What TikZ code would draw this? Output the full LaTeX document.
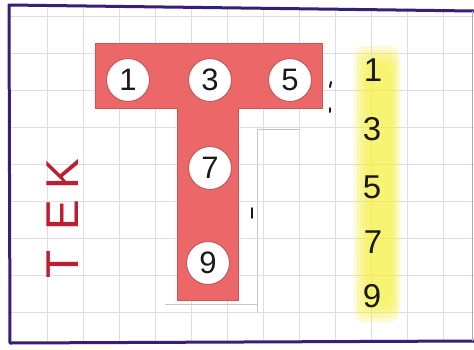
\documentclass[tikz,border=0pt]{standalone}
\usepackage{fontspec}
\setmainfont{Liberation Sans}
\definecolor{tred}{RGB}{236,104,104}
\definecolor{tedge}{RGB}{214,80,86}
\definecolor{tekred}{RGB}{190,30,50}
\definecolor{frame}{RGB}{55,30,120}
\definecolor{gridc}{RGB}{222,222,228}
\definecolor{hl}{RGB}{246,240,60}
\definecolor{ink}{RGB}{25,25,25}
\tikzset{
  gridline/.style={draw=gridc, line width=0.8pt},
  circ/.style={circle, fill=white, draw=tedge!70!gray, line width=1pt, minimum size=43pt, inner sep=0pt, text=ink, font=\fontsize{31}{31}\selectfont},
  num/.style={inner sep=0pt, text=ink, font=\fontsize{33}{33}\selectfont},
  tek/.style={inner sep=0pt, text=tekred, rotate=90, font=\fontsize{46}{46}\selectfont},
  pencil/.style={draw=gray!45, line width=0.7pt},
  dotmark/.style={draw=ink, line width=2pt, line cap=round},
  hlband/.style={fill=hl, opacity=0.22, rounded corners=10pt}
}
\begin{document}
\begin{tikzpicture}[x=1pt,y=-1pt]
\useasboundingbox (0,0) rectangle (474,349);
\fill[white] (0,0) rectangle (474,349);
% grid
\foreach \i in {0,...,11} \draw[gridline] ({47+36*\i},8) -- ({47+36*\i},343);
\foreach \j in {0,...,8} \draw[gridline] (8,{16+37*\j}) -- (474,{16+37*\j});
% highlight (soft edges)
\fill[hlband] (354,46) rectangle (400,322);
\fill[hlband] (357,50) rectangle (398,318);
\fill[hlband] (360,54) rectangle (396,314);
\fill[hlband] (363,58) rectangle (394,310);
\fill[hlband] (366,62) rectangle (392,306);
% pencil guide lines
\draw[pencil] (300,129) -- (257,129) -- (257,312);
\draw[pencil] (165,304) -- (257,304);
\draw[dotmark, line width=1.6pt] (252,208) -- (252,218);
% T shape
\fill[tred, draw=tedge, line width=0.8pt] (95,43) -- (322,43) -- (322,108) -- (238,108) -- (238,300) -- (177,300) -- (177,108) -- (95,108) -- cycle;
% circles
\node[circ] (c1) at (128,80) {1};
\node[circ] (c3) at (210,80) {3};
\node[circ] (c5) at (290,80) {5};
\node[circ] (c7) at (210,168) {7};
\node[circ] (c9) at (208,263) {9};
% separator marks
\draw[dotmark] (331,82) -- (330,87);
\draw[dotmark] (330,108) -- (330,112);
% right column
\node[num] (r1) at (373,70) {1};
\node[num] (r3) at (372,129) {3};
\node[num] (r5) at (372,187) {5};
\node[num] (r7) at (373,242) {7};
\node[num] (r9) at (372,296) {9};
% TEK vertical
\node[tek] (tT) at (63,264) {T};
\node[tek] (tE) at (63,215) {E};
\node[tek] (tK) at (63,174) {K};
% frame
\draw[frame, line width=3pt, line join=round] (474,11) -- (9,5) -- (10,343) -- (474,341);
\draw[frame!40, line width=1pt] (472,11) -- (472,341);
\end{tikzpicture}
\end{document}
